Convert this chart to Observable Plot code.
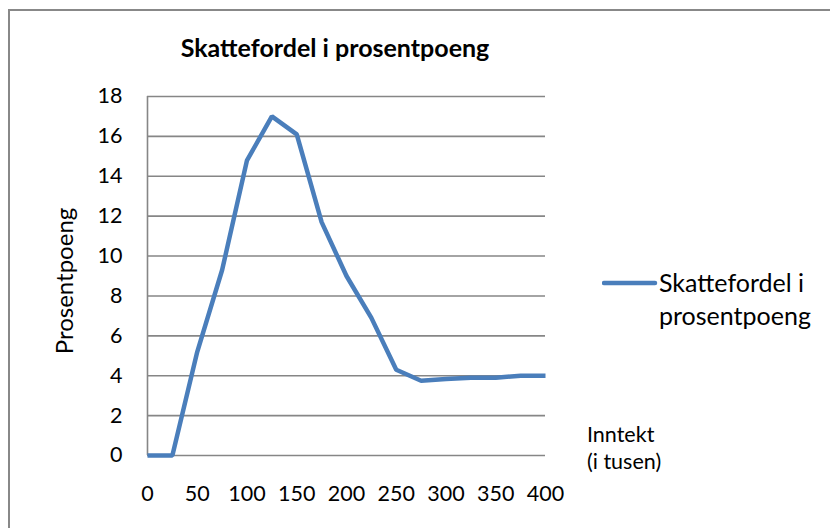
<!DOCTYPE html>
<html>
<head>
<meta charset="utf-8">
<script src="https://cdn.jsdelivr.net/npm/d3@7"></script>
<script src="https://cdn.jsdelivr.net/npm/@observablehq/plot@0.6"></script>
<style>
  html, body { margin: 0; padding: 0; background: #fff; overflow: hidden; }
  body { width: 830px; height: 528px; position: relative; font-family: Lato, "Open Sans", sans-serif; }
  #frame { position: absolute; left: 8px; top: 9px; width: 900px; height: 600px; border: 2px solid #888; box-sizing: border-box; }
  #chart { position: absolute; left: 0; top: 0; }
  .lbl { position: absolute; color: #000; white-space: nowrap; }
</style>
</head>
<body>
<div id="frame"></div>
<div id="chart"></div>
<div class="lbl" id="title" style="left:0; width:670px; text-align:center; top:35px; font-size:25px; line-height:25px; font-weight:bold;"></div>
<div class="lbl" id="ylab" style="left:64px; top:281px; font-size:24px; line-height:24px; transform: translate(-50%,-50%) rotate(-90deg);"></div>
<div class="lbl" id="xlab" style="left:587px; top:421px; font-size:21.5px; line-height:27px;"></div>
<div class="lbl" id="legend" style="left:602px; top:266px; font-size:25px; line-height:33px;">
  <svg width="56" height="10" style="position:absolute; left:0; top:12px;"><line x1="2" y1="5" x2="53" y2="5" stroke="#4a7ebb" stroke-width="4.5" stroke-linecap="round"/></svg>
  <div id="legtext" style="position:absolute; left:57px; top:0;"></div>
</div>
<script>
const seriesName = "Skattefordel i prosentpoeng";
const chartTitle = "Skattefordel i prosentpoeng";
const yTitle = "Prosentpoeng";
const xTitleLines = ["Inntekt", "(i tusen)"];
const legendLines = ["Skattefordel i", "prosentpoeng"];
const income = [0, 25, 50, 75, 100, 125, 150, 175, 200, 225, 250, 275, 300, 325, 350, 375, 400];
const advantage = [0, 0, 5.2, 9.3, 14.8, 17, 16.1, 11.7, 9.0, 6.9, 4.3, 3.75, 3.83, 3.9, 3.9, 4.0, 4.0];
const xTicks = [0, 50, 100, 150, 200, 250, 300, 350, 400];
const yTicks = [0, 2, 4, 6, 8, 10, 12, 14, 16, 18];

const data = income.map((x, i) => ({x, y: advantage[i]}));

document.getElementById("title").textContent = chartTitle;
document.getElementById("ylab").textContent = yTitle;
document.getElementById("xlab").innerHTML = xTitleLines.join("<br>");
document.getElementById("legtext").innerHTML = legendLines.join("<br>");

const chart = Plot.plot({
  width: 830,
  height: 528,
  marginLeft: 147,
  marginRight: 285,
  marginTop: 96,
  marginBottom: 73,
  style: {fontFamily: "Lato, 'Open Sans', sans-serif", fontSize: "21.5px", color: "#000", background: "transparent", overflow: "visible"},
  x: {domain: [0, 400], ticks: xTicks, tickSize: 0, tickPadding: 30, label: null},
  y: {domain: [0, 18], ticks: yTicks, tickSize: 0, tickPadding: 25, label: null},
  marks: [
    Plot.ruleY(yTicks, {stroke: "#868686", strokeWidth: 1.6}),
    Plot.ruleX([0], {stroke: "#868686", strokeWidth: 1.6}),
    Plot.axisX({ticks: xTicks, tickSize: 0, tickPadding: 30, label: null, fill: "#000", fontSize: 21.5}),
    Plot.axisY({ticks: yTicks, tickSize: 0, tickPadding: 25, label: null, fill: "#000", fontSize: 21.5}),
    Plot.line(data, {x: "x", y: "y", stroke: "#4a7ebb", strokeWidth: 4.5, strokeLinejoin: "miter", strokeLinecap: "butt"})
  ]
});
document.getElementById("chart").appendChild(chart);
</script>
</body>
</html>
